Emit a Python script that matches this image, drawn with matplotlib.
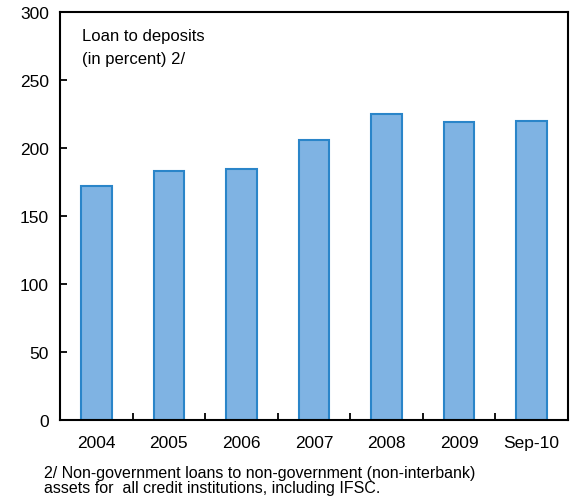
import matplotlib
matplotlib.use("Agg")
import matplotlib.pyplot as plt
import numpy as np

categories = ["2004", "2005", "2006", "2007", "2008", "2009", "Sep-10"]
loan_to_deposits = [172, 183, 185, 206, 225, 219, 220]

plt.rcParams['font.family'] = ['Liberation Sans', 'DejaVu Sans']

fig = plt.figure(figsize=(5.77, 5.02), dpi=100)
ax = fig.add_axes([0.104, 0.161, 0.880, 0.813])

x = np.arange(len(categories))
ax.bar(x, loan_to_deposits, width=0.42, color="#7FB3E3", edgecolor="#2A85C9", linewidth=1.5)

ax.set_xlim(-0.5, len(categories) - 0.5)
ax.set_ylim(0, 300)
ax.set_yticks(np.arange(0, 301, 50))
ax.set_xticks(x)
ax.set_xticklabels(categories)
ax.set_xticks(np.arange(-0.5, len(categories) - 0.4, 1), minor=True)
ax.tick_params(axis='x', which='major', length=0, pad=11, labelsize=12.5)
ax.tick_params(axis='x', which='minor', direction='in', length=5, width=1.3)
ax.tick_params(axis='y', direction='in', length=5, width=1.3, labelsize=12.5, pad=8)
for s in ax.spines.values():
    s.set_linewidth(1.5)
    s.set_color("black")

ax.text(0.043, 0.962, "Loan to deposits\n(in percent) 2/", transform=ax.transAxes,
        fontsize=12, va='top', ha='left', linespacing=1.7)

fig.text(44 / 577, 1 - 481 / 502, "2/ Non-government loans to non-government (non-interbank)\nassets for  all credit institutions, including IFSC.",
         fontsize=11.5, va='center', ha='left', linespacing=1.08)

fig.savefig("out.png", dpi=100)
